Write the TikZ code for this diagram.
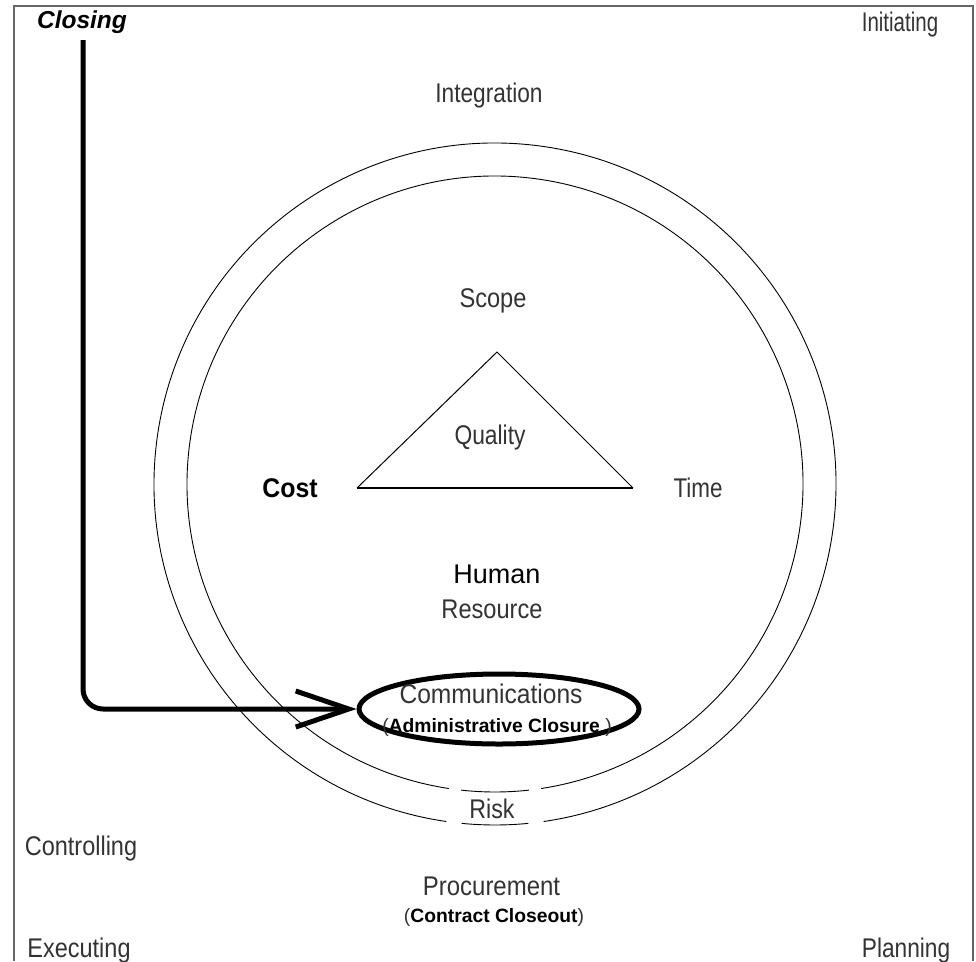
\documentclass[tikz,border=0pt]{standalone}
\usepackage{fontspec}
\setmainfont{Liberation Sans}
\usetikzlibrary{arrows.meta,shapes.geometric}
% horizontally condensed text
\newcommand{\nx}[2]{\scalebox{#1}[1]{#2}}

\begin{document}
\begin{tikzpicture}[x=1pt,y=-1pt,
  lbl/.style={anchor=base, inner sep=0pt, text=black!80, font=\fontsize{27}{27}\selectfont},
  strong/.style={anchor=base, inner sep=0pt, text=black, font=\fontsize{27}{27}\selectfont\bfseries},
  note/.style={anchor=base, inner sep=0pt, text=black!80, font=\fontsize{19.3}{19.3}\selectfont},
  ring/.style={line width=0.9pt, black},
  heavy/.style={line width=5pt, black},
  frame/.style={line width=1.5pt, black!60}]
\useasboundingbox (0,0) rectangle (976,961);
\fill[white] (0,0) rectangle (976,961);

% open frame
\draw[frame] (14,961) -- (14,6) -- (973,6) -- (973,961);

% corner phases
\node[anchor=base, inner sep=0pt, font=\fontsize{24.5}{24.5}\selectfont\bfseries\itshape] (closing) at (82,28) {Closing};
\node[lbl] (initiating) at (900,31) {\nx{0.76}{Initiating}};
\node[lbl] (controlling) at (81,855) {\nx{0.87}{Controlling}};
\node[lbl] (executing) at (79,957) {\nx{0.87}{Executing}};
\node[lbl] (planning) at (906,957) {\nx{0.84}{Planning}};

% knowledge areas
\node[lbl] (integration) at (489,102) {\nx{0.84}{Integration}};
\node[lbl] (scope) at (493,307) {\nx{0.875}{Scope}};
\node[lbl] (quality) at (490,444) {\nx{0.845}{Quality}};
\node[strong] (cost) at (290,497) {\nx{0.92}{Cost}};
\node[lbl] (time) at (698,497) {\nx{0.83}{Time}};
\node[lbl, text=black] (human) at (497,583) {Human};
\node[lbl] (resource) at (492,618) {\nx{0.875}{Resource}};
\node[lbl] (risk) at (492,818) {\nx{0.86}{Risk}};
\node[lbl] (procurement) at (491.5,895) {\nx{0.887}{Procurement}};
\node[note] (contract) at (494,922) {(\textbf{\color{black}Contract Closeout})};

% two rings, broken on either side of Risk
\coordinate (c) at (495,484);
\draw[ring] (c) ++(98.6:308) arc[start angle=98.6, end angle=441.4, radius=308];
\draw[ring] (c) ++(83.7:308) arc[start angle=83.7, end angle=96.3, radius=308];
\draw[ring] (c) ++(98.2:341) arc[start angle=98.2, end angle=441.8, radius=341];
\draw[ring] (c) ++(84.4:341) arc[start angle=84.4, end angle=95.6, radius=341];

% scope / cost / time triangle
\coordinate (apex) at (497,352);
\coordinate (tl) at (357,488);
\coordinate (tr) at (633,488);
\draw[line width=1pt] (tl) -- (apex) -- (tr);
\draw[line width=2pt] (tl) -- (tr);

% communications, circled
\node[draw, heavy, ellipse, minimum width=280, minimum height=70, inner sep=0pt] (comm) at (499,709) {};
\node[lbl] (commtext) at (491,703) {\nx{0.91}{Communications}};
\node[note] (admin) at (497,732) {(\textbf{\color{black}Administrative Closure} )};

% closing arrow
\coordinate (drop) at (83,40);
\draw[heavy, rounded corners=20pt, -{Straight Barb[length=53pt, width=36pt]}] (drop) |- (comm.west);
\end{tikzpicture}
\end{document}
